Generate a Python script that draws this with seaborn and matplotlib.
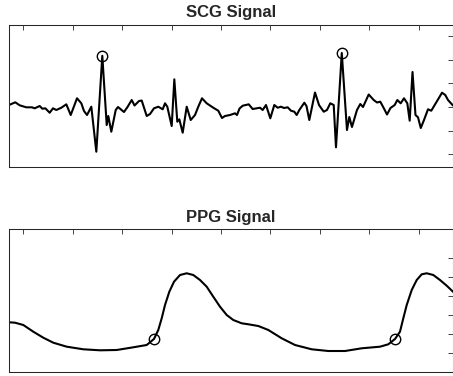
import matplotlib
matplotlib.use("Agg")
import matplotlib.pyplot as plt
import seaborn as sns

# STYLE
sns.set_theme(style="white")
plt.rcParams.update({
    "font.family": ["Liberation Sans", "DejaVu Sans"],
    "axes.edgecolor": "0.15",
    "axes.linewidth": 0.75,
})

# DATA (time in tick units, amplitude in arbitrary units)
scg_t = [-0.283, -0.156, -0.067, 0.067, 0.182, 0.236, 0.337, 0.390, 0.451, 0.539,
         0.606, 0.673, 0.774, 0.875, 0.964, 1.091, 1.178, 1.232, 1.293, 1.380,
         1.481, 1.602, 1.691, 1.723, 1.784, 1.873, 1.919, 2.040, 2.111, 2.196,
         2.253, 2.343, 2.398, 2.499, 2.566, 2.646, 2.733, 2.822, 2.869, 2.915,
         3.004, 3.057, 3.117, 3.158, 3.226, 3.307, 3.388, 3.475, 3.541, 3.616,
         3.711, 3.844, 3.945, 4.020, 4.081, 4.182, 4.283, 4.323, 4.374, 4.438,
         4.560, 4.640, 4.721, 4.788, 4.842, 4.909, 4.996, 5.077, 5.145, 5.212,
         5.273, 5.347, 5.414, 5.481, 5.529, 5.582, 5.683, 5.727, 5.784, 5.899,
         5.980, 6.075, 6.141, 6.208, 6.277, 6.323, 6.440, 6.545, 6.592, 6.646,
         6.747, 6.814, 6.869, 6.984, 7.085, 7.152, 7.218, 7.287, 7.354, 7.424,
         7.509, 7.562, 7.630, 7.697, 7.764, 7.812, 7.869, 7.929, 7.980, 8.036,
         8.101, 8.182, 8.248, 8.317, 8.398, 8.465, 8.531, 8.586, 8.687]
scg_v = [0.085, 0.199, 0.072, -0.013, -0.013, -0.055, 0.042, -0.072, -0.055, -0.242,
         -0.055, -0.127, -0.030, 0.114, -0.339, 0.369, 0.157, -0.169, -0.339, 0.013,
         -1.894, 2.170, -0.763, -0.381, -1.047, -0.127, 0.000, -0.212, 0.000, 0.297,
         0.064, 0.254, 0.275, -0.381, -0.297, -0.055, 0.013, -0.097, 0.157, 0.013,
         -0.805, 1.174, -0.623, -0.521, -1.089, 0.013, -0.551, -0.339, 0.013, 0.369,
         0.157, -0.030, -0.157, -0.466, -0.381, -0.339, -0.267, -0.339, -0.064, 0.055,
         0.114, -0.085, -0.055, -0.030, -0.127, 0.085, -0.479, 0.085, -0.030, 0.013,
         -0.042, -0.013, -0.157, -0.199, -0.339, -0.127, 0.182, 0.042, -0.551, 0.614,
         0.085, -0.199, -0.127, 0.157, 0.085, -1.708, 2.290, -0.975, -0.424, -0.847,
         -0.127, 0.127, 0.000, 0.530, 0.297, 0.191, 0.225, -0.042, -0.318, -0.042,
         0.085, 0.297, 0.157, 0.369, 0.157, -0.581, 1.483, -0.339, -0.436, -0.890,
         -0.551, -0.097, -0.157, 0.085, 0.369, 0.606, 0.508, 0.297, 0.064]
scg_peak_t = [1.602, 6.440]
scg_peak_v = [2.170, 2.290]

ppg_t = [-0.283, -0.162, 0.006, 0.208, 0.410, 0.612, 0.883, 1.218, 1.556, 1.893,
         2.228, 2.499, 2.646, 2.733, 2.802, 2.869, 2.956, 3.051, 3.172, 3.307,
         3.440, 3.576, 3.711, 3.844, 3.980, 4.115, 4.248, 4.418, 4.552, 4.754,
         4.956, 5.226, 5.495, 5.832, 6.168, 6.505, 6.842, 7.212, 7.380, 7.515,
         7.616, 7.683, 7.752, 7.853, 7.954, 8.055, 8.156, 8.289, 8.424, 8.560,
         8.693]
ppg_v = [1.616, 1.595, 1.474, 1.121, 0.805, 0.542, 0.332, 0.195, 0.142, 0.158,
         0.300, 0.421, 0.737, 1.211, 1.826, 2.526, 3.226, 3.753, 4.105, 4.195,
         4.105, 3.842, 3.489, 2.963, 2.437, 2.000, 1.737, 1.563, 1.511, 1.421,
         1.211, 0.774, 0.421, 0.195, 0.105, 0.105, 0.247, 0.332, 0.458, 0.737,
         1.121, 1.826, 2.526, 3.316, 3.842, 4.142, 4.195, 4.105, 3.842, 3.542,
         3.210]
ppg_foot_t = [2.646, 7.515]
ppg_foot_v = [0.737, 0.737]

x_ticks = list(range(0, 9))
scg_ticks = [-2, -1, 0, 1, 2, 3]
ppg_ticks = [0, 1, 2, 3, 4, 5]

W, H = 453, 376


def style_axes(ax, yticks, ylim, title, pad):
    ax.set_xlim(-0.283, 8.687)
    ax.set_ylim(*ylim)
    ax.set_xticks(x_ticks)
    ax.set_yticks(yticks)
    ax.tick_params(direction="in", top=True, right=True, length=3.5,
                   width=0.6, color="0.15", labelbottom=False, labelleft=False)
    for s in ax.spines.values():
        s.set_visible(True)
    ax.set_xlabel("")
    ax.set_ylabel("")
    ax.set_title(title, fontsize=12, fontweight="bold", pad=pad)


fig = plt.figure(figsize=(W / 100, H / 100), dpi=100)

# SCG
ax1 = fig.add_axes([9 / W, 1 - 167 / H, 444 / W, 142 / H])
sns.lineplot(x=scg_t, y=scg_v, ax=ax1, color="black", lw=1.5,
             sort=False, estimator=None)
ax1.plot(scg_peak_t, scg_peak_v, "o", ms=7.5, mfc="none", mec="black", mew=1)
style_axes(ax1, scg_ticks, (-2.542, 3.475), "SCG Signal", 5.5)

# PPG
ax2 = fig.add_axes([9 / W, 1 - 372 / H, 444 / W, 142.7 / H])
sns.lineplot(x=ppg_t, y=ppg_v, ax=ax2, color="black", lw=1.5,
             sort=False, estimator=None)
ax2.plot(ppg_foot_t, ppg_foot_v, "o", ms=7.5, mfc="none", mec="black", mew=1)
style_axes(ax2, ppg_ticks, (-1.0, 6.51), "PPG Signal", 5)

fig.savefig("out.png", dpi=100)
